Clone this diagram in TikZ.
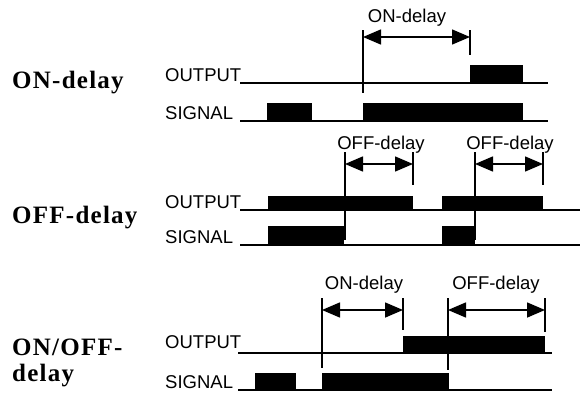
\documentclass[tikz,border=0pt]{standalone}
\usepackage{fontspec}
\setmainfont{Liberation Serif}
\setsansfont{Liberation Sans}
\newfontfamily\titlefont[LetterSpace=5]{Liberation Serif}
\usetikzlibrary{arrows.meta}

\begin{document}
\begin{tikzpicture}[
  x=1pt, y=-1pt,
  title/.style={font=\titlefont\bfseries\fontsize{25}{23}\selectfont, anchor=base west, inner sep=0pt},
  lbl/.style={font=\sffamily\fontsize{18.5}{20}\selectfont, anchor=base west, inner sep=0pt},
  dlbl/.style={font=\sffamily\fontsize{18.5}{20}\selectfont, anchor=base, inner sep=0pt},
  wave/.style={line width=1.8pt},
  pulse/.style={fill=black},
  tick/.style={line width=1.5pt},
  dim/.style={{Triangle[length=18pt,width=15pt]}-{Triangle[length=18pt,width=15pt]}, line width=1.5pt}
]
  \useasboundingbox (0,0) rectangle (580,392);

  % ON-delay (top)
  \node[title] (t1) at (12,88) {ON-delay};
  \node[lbl] (out1) at (165,81) {OUTPUT};
  \node[lbl] (sig1) at (165,119) {SIGNAL};
  \draw[wave] (240,83) -- (548,83);
  \fill[pulse] (470,83) rectangle (523,65);
  \draw[wave] (240,121) -- (548,121);
  \fill[pulse] (267,121) rectangle (312,103);
  \fill[pulse] (363,121) rectangle (523,103);
  \draw[tick] (363,30) -- (363,93);
  \draw[tick] (470,30) -- (470,55);
  \coordinate (on1a) at (363,37);
  \coordinate (on1b) at (470,37);
  \draw[dim] (on1a) -- (on1b);
  \node[dlbl] (on1) at (407,22) {ON-delay};

  % OFF-delay (middle)
  \node[title] (t2) at (12,223) {OFF-delay};
  \node[lbl] (out2) at (165,208) {OUTPUT};
  \node[lbl] (sig2) at (165,243) {SIGNAL};
  \draw[wave] (240,210) -- (580,210);
  \fill[pulse] (268,210) rectangle (413,196);
  \fill[pulse] (442,210) rectangle (543,196);
  \draw[wave] (240,245) -- (580,245);
  \fill[pulse] (268,245) rectangle (344,226);
  \fill[pulse] (442,245) rectangle (475,226);
  \draw[tick] (345,152) -- (345,240);
  \draw[tick] (413,152) -- (413,185);
  \draw[tick] (475,152) -- (475,240);
  \draw[tick] (543,152) -- (543,185);
  \coordinate (off1a) at (345,164);
  \coordinate (off1b) at (413,164);
  \coordinate (off2a) at (475,164);
  \coordinate (off2b) at (543,164);
  \draw[dim] (off1a) -- (off1b);
  \draw[dim] (off2a) -- (off2b);
  \node[dlbl] (off1) at (381,149) {OFF-delay};
  \node[dlbl] (off2) at (510,149) {OFF-delay};

  % ON/OFF-delay (bottom)
  \node[title] (t3) at (12,355) {ON/OFF-};
  \node[title] (t3b) at (12,381) {delay};
  \node[lbl] (out3) at (165,348) {OUTPUT};
  \node[lbl] (sig3) at (165,388) {SIGNAL};
  \draw[wave] (238,353) -- (552,353);
  \fill[pulse] (403,353) rectangle (545,336);
  \draw[wave] (238,390) -- (552,390);
  \fill[pulse] (255,390) rectangle (296,373);
  \fill[pulse] (322,390) rectangle (449,373);
  \draw[tick] (322,298) -- (322,368);
  \draw[tick] (403,298) -- (403,330);
  \draw[tick] (448,298) -- (448,370);
  \draw[tick] (545,298) -- (545,332);
  \coordinate (on3a) at (322,310);
  \coordinate (on3b) at (403,310);
  \coordinate (off3a) at (448,310);
  \coordinate (off3b) at (545,310);
  \draw[dim] (on3a) -- (on3b);
  \draw[dim] (off3a) -- (off3b);
  \node[dlbl] (on3) at (364,289) {ON-delay};
  \node[dlbl] (off3) at (496,289) {OFF-delay};
\end{tikzpicture}
\end{document}
